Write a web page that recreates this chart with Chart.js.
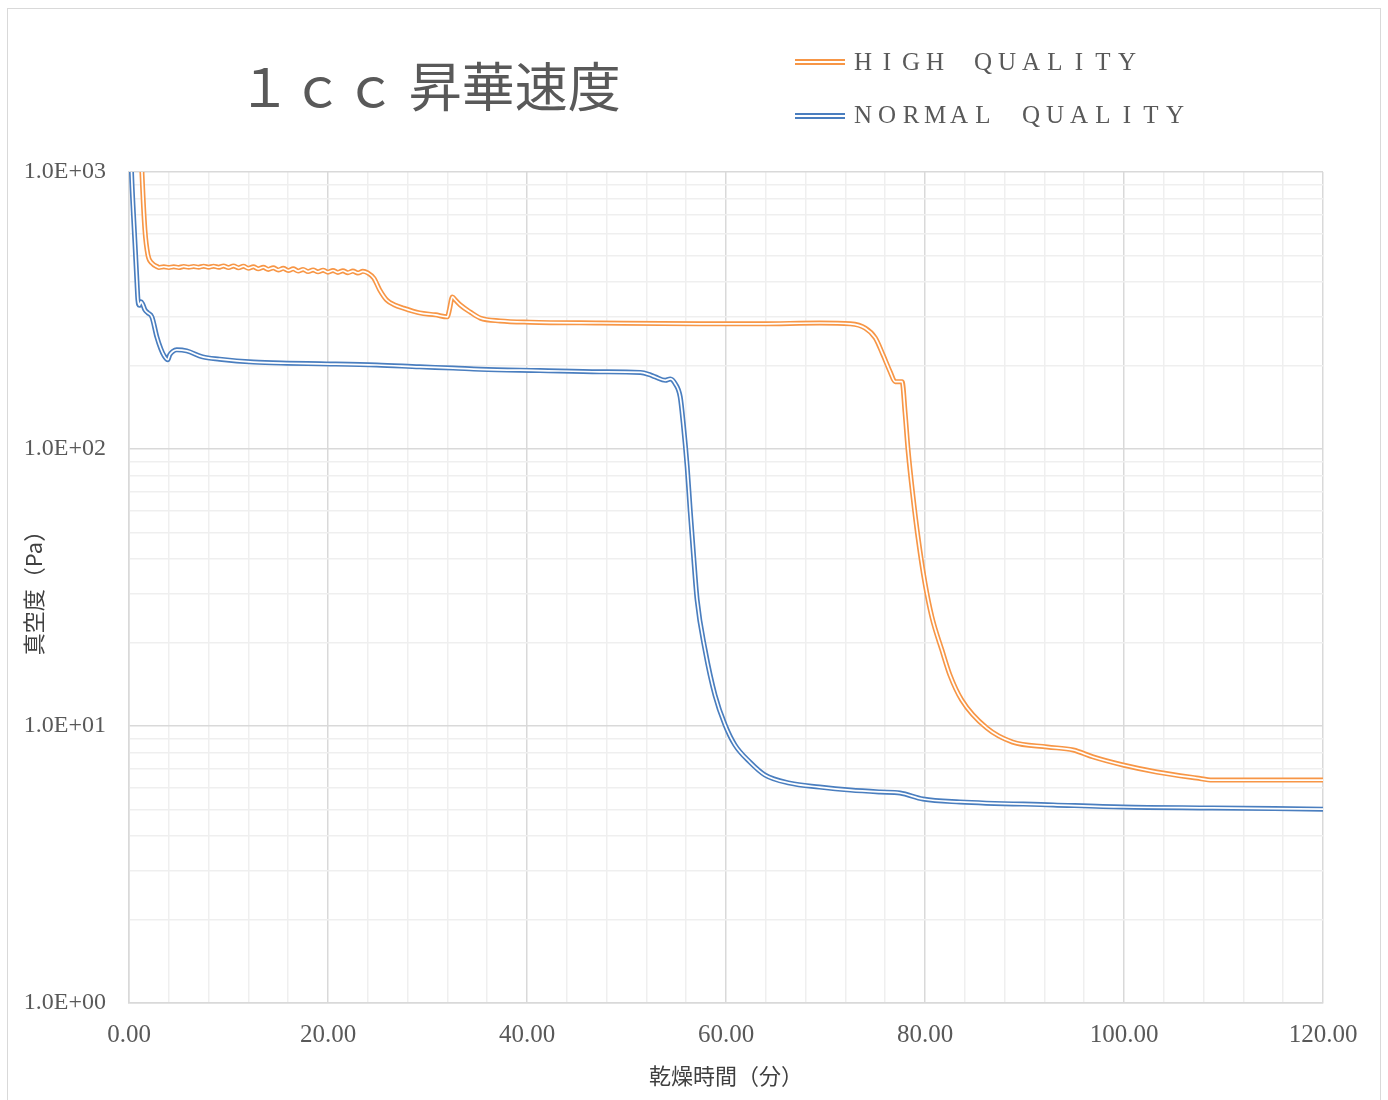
<!DOCTYPE html>
<html>
<head>
<meta charset="utf-8">
<script src="https://cdn.jsdelivr.net/npm/chart.js@4.4.0/dist/chart.umd.min.js"></script>
<style>
body { margin: 0; background: #fff; }
#wrap { position: relative; width: 1388px; height: 1100px; overflow: hidden; }
#frame { position: absolute; left: 7px; top: 8px; width: 1374px; height: 1110px; border: 1px solid #d9d9d9; box-sizing: border-box; pointer-events: none; }
#title { position: absolute; left: 238px; top: 58px; font-family: "Noto Sans CJK JP"; font-size: 53px; line-height: 53px; color: #595959; white-space: nowrap; }
.leg { position: absolute; left: 795px; height: 24px; width: 420px; }
.leg .ln { position: absolute; left: 0; width: 50px; height: 1.5px; border-top: 2px solid; border-bottom: 2px solid; }
.leg .tx { position: absolute; left: 56px; top: 0; white-space: nowrap; font-family: "Liberation Serif"; font-size: 25px; line-height: 24px; color: #595959; }
.leg .tx span { display: inline-block; width: 24px; text-align: center; }
</style>
</head>
<body>
<div id="wrap">
  <canvas id="chart"></canvas>
  <div id="frame"></div>
  <div id="title">１ｃｃ 昇華速度</div>
  <div class="leg" id="leg0" style="top:50px"><div class="ln" style="top:9px"></div><div class="tx"></div></div>
  <div class="leg" id="leg1" style="top:103px"><div class="ln" style="top:10px"></div><div class="tx"></div></div>
</div>
<script>
// 系列名と色
const seriesNames = ['HIGH QUALITY', 'NORMAL QUALITY'];
const seriesColors = ['#f79646', '#4a7ebf'];

// HIGH QUALITY: 乾燥時間(分) / 真空度(Pa)
const highX = [1.0, 1.3, 1.6, 1.9, 2.3, 2.9,
  3, 3.5, 4, 4.5, 5, 5.5, 6, 6.5, 7, 7.5, 8, 8.5, 9, 9.5, 10, 10.5, 11, 11.5, 12, 12.5,
  13, 13.5, 14, 14.5, 15, 15.5, 16, 16.5, 17, 17.5, 18, 18.5, 19, 19.5, 20, 20.5, 21, 21.5,
  22, 22.5, 23, 23.5, 24,
  24.6, 25.2, 25.9, 26.7, 27.5, 29.2, 30.8, 32.0, 32.2, 32.5, 32.8, 33.3, 34.3, 35.3, 37.3,
  40.3, 47.3, 57.4, 63.4, 69.4, 72.5, 74.0, 75.0, 75.8, 76.5, 77.0, 77.7, 78.0, 78.3, 78.8,
  79.3, 80.0, 80.7, 81.7, 82.5, 83.7, 86.2, 88.8, 92.3, 94.9, 96.9, 99.9, 103.3, 107.3,
  108.9, 120];
const highY = [2000, 1000, 618, 502, 469, 454,
  452, 455, 452, 455, 452, 456, 453, 456, 453, 457, 453, 457, 453, 458, 452, 458, 451, 457, 449, 455,
  447, 453, 445, 451, 443, 449, 441, 447, 439, 445, 437, 443, 436, 442, 435, 441, 434, 440,
  433, 439, 432, 438, 432,
  414, 375, 345, 331, 323, 310, 305, 300, 318, 354, 345, 331, 312, 297, 290,
  287, 285, 283, 283, 285, 283, 273, 252, 218, 190, 175, 175, 135, 99, 67,
  48, 32.8, 24.7, 18.8, 15.3, 12.4, 9.84, 8.75, 8.40, 8.19, 7.73, 7.23, 6.82, 6.49,
  6.38, 6.38];

// NORMAL QUALITY
const normalX = [0.1, 0.25, 0.45, 0.6, 0.8, 0.9, 1.05, 1.2, 1.35, 1.6, 1.9, 2.3, 2.8, 3.2, 3.5,
  3.9, 4.1, 4.4, 4.8, 5.8, 7.4, 9.1, 12.5, 15.9, 19.2, 24.9, 29.2, 32.6, 35.3, 41.3, 47.3,
  51.4, 52.4, 52.9, 53.9, 54.4, 54.9, 55.4, 55.7, 56.1, 56.4, 56.7, 57.1, 57.9, 58.9, 59.9,
  60.9, 62.4, 63.9, 66.4, 69.4, 72.5, 75.5, 77.5, 79.8, 83.5, 92.9, 99.9, 108.9, 120];
const normalY = [1500, 1000, 700, 554, 400, 345, 330, 340, 335, 318, 310, 300, 254, 230, 218,
  210, 219, 225, 228, 226, 215, 211, 206, 204, 203, 201, 198, 196, 194, 192, 190,
  189, 185, 182, 177, 179, 172, 154, 124, 86, 60, 43, 28.5, 18.8, 12.9, 10.1,
  8.54, 7.41, 6.66, 6.22, 6.02, 5.87, 5.78, 5.73, 5.45, 5.32, 5.19, 5.10, 5.06, 5.01];

// 軸
const xMajor = [0, 20, 40, 60, 80, 100, 120];
const yDecades = [1, 10, 100, 1000];
const xTitle = '乾燥時間（分）';
const yTitle = '真空度（Pa）';

// 補助目盛り（対数軸の 1〜9 × 10^n）
const yGridValues = [];
yDecades.forEach((d, i) => {
  if (i === yDecades.length - 1) { yGridValues.push(d); return; }
  for (let k = 1; k < 10; k++) yGridValues.push(d * k);
});
const isDecade = v => yDecades.some(d => Math.abs(d - v) < 1e-9);
const fmtExp = v => {
  const e = Math.round(Math.log10(v));
  return '1.0E' + (e < 0 ? '-' : '+') + String(Math.abs(e)).padStart(2, '0');
};

const toPoints = (xs, ys) => xs.map((x, i) => ({ x: x, y: ys[i] }));

// 二重線：太い色線の上に細い白線を重ねる
function doubleLine(points, color, order) {
  const common = { data: points, pointRadius: 0, fill: false, cubicInterpolationMode: 'monotone' };
  return [
    Object.assign({ borderColor: '#ffffff', borderWidth: 1.7, order: order }, common),
    Object.assign({ borderColor: color, borderWidth: 5, order: order + 1 }, common)
  ];
}

// 凡例（HTML）
seriesNames.forEach((name, i) => {
  const leg = document.getElementById('leg' + i);
  leg.querySelector('.ln').style.borderColor = seriesColors[i];
  const tx = leg.querySelector('.tx');
  for (const ch of name) {
    const s = document.createElement('span');
    s.textContent = ch === ' ' ? '\u00a0' : ch;
    tx.appendChild(s);
  }
});

const ctx = document.getElementById('chart').getContext('2d');
new Chart(ctx, {
  type: 'line',
  data: {
    datasets: [
      ...doubleLine(toPoints(normalX, normalY), seriesColors[1], 0),
      ...doubleLine(toPoints(highX, highY), seriesColors[0], 2)
    ]
  },
  options: {
    responsive: true,
    maintainAspectRatio: false,
    animation: false,
    layout: { padding: { left: 0, top: 172, right: 65, bottom: 0 } },
    plugins: {
      legend: { display: false },
      tooltip: { enabled: false }
    },
    scales: {
      x: {
        type: 'linear',
        min: 0,
        max: 120,
        afterFit: s => { s.height = 97; },
        ticks: {
          stepSize: 4,
          autoSkip: false,
          maxRotation: 0,
          padding: 17,
          color: '#595959',
          font: { family: '"Liberation Serif"', size: 25 },
          callback: v => xMajor.includes(v) ? v.toFixed(2) : ''
        },
        grid: {
          drawTicks: false,
          lineWidth: 1.5,
          color: c => (c.tick && xMajor.includes(c.tick.value)) ? '#d9d9d9' : '#efefef'
        },
        border: { color: '#d9d9d9', width: 1.5 },
        title: {
          display: true,
          text: xTitle,
          color: '#404040',
          font: { family: '"Noto Sans CJK JP"', size: 22 },
          padding: { top: 0, bottom: 11 }
        }
      },
      y: {
        type: 'logarithmic',
        min: 1,
        max: 1000,
        afterFit: s => { s.width = 129; },
        afterBuildTicks: s => { s.ticks = yGridValues.map(v => ({ value: v })); },
        ticks: {
          autoSkip: false,
          padding: 23,
          color: '#595959',
          font: { family: '"Liberation Serif"', size: 24 },
          callback: v => isDecade(v) ? fmtExp(v) : ''
        },
        grid: {
          drawTicks: false,
          lineWidth: 1.5,
          color: c => (c.tick && isDecade(c.tick.value)) ? '#d9d9d9' : '#efefef'
        },
        border: { color: '#d9d9d9', width: 1.5 },
        title: {
          display: true,
          text: yTitle,
          color: '#404040',
          font: { family: '"Noto Sans CJK JP"', size: 22 },
          padding: { top: 20, bottom: 0 }
        }
      }
    }
  }
});
</script>
</body>
</html>
